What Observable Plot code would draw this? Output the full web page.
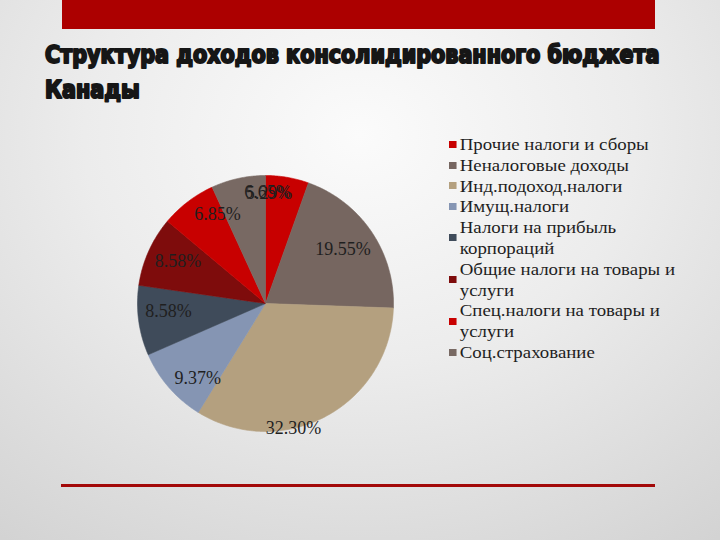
<!DOCTYPE html>
<html>
<head>
<meta charset="utf-8">
<script src="https://cdn.jsdelivr.net/npm/d3@7"></script>
<script src="https://cdn.jsdelivr.net/npm/@observablehq/plot@0.6"></script>
<style>
  html, body { margin: 0; padding: 0; }
  body {
    width: 720px; height: 540px; overflow: hidden; position: relative;
    background: radial-gradient(ellipse 85% 95% at 50% 25%, #fbfbfb 0%, #ececec 45%, #d2d2d2 100%);
  }
  #topbar { position: absolute; left: 62px; top: 0; width: 593px; height: 29px; background: #ac0000; }
  #bottomline { position: absolute; left: 61px; top: 484px; width: 594px; height: 3px; background: #a30909; }
  #title { position: absolute; left: 0; top: 0; }
  #chart { position: absolute; left: 130px; top: 166px; }
  #legend {
    position: absolute; left: 449px; top: 134px;
    font-family: "Liberation Serif", "DejaVu Serif", serif; font-size: 17.5px;
    line-height: 20.8px; color: #1e1e1e; transform-origin: 0 0; white-space: nowrap;
  }
  .item { display: flex; align-items: center; }
  .sw { width: 7px; height: 7px; flex: none; margin-right: 3px; }
</style>
</head>
<body>
<div id="topbar"></div>
<svg id="title" width="720" height="110">
  <g id="titleGroup" fill="#161616" stroke="#161616" stroke-width="2" stroke-linejoin="round"
     font-family="'DejaVu Sans Condensed', 'DejaVu Sans', sans-serif" font-weight="bold" font-size="24">
    <text id="t1" x="45" y="63">Структура доходов консолидированного бюджета</text>
    <text id="t2" x="45" y="98">Канады</text>
  </g>
</svg>
<div id="chart"></div>
<div id="legend"></div>
<div id="bottomline"></div>
<script>
const categories = [
  "Прочие налоги и сборы",
  "Неналоговые доходы",
  "Инд.подоход.налоги",
  "Имущ.налоги",
  "Налоги на прибыль корпораций",
  "Общие налоги на товары и услуги",
  "Спец.налоги на товары и услуги",
  "Соц.страхование"
];
const shares = [5.29, 19.55, 32.30, 9.37, 8.58, 8.58, 6.85, 6.65];
const shareLabels = ["5.29%", "19.55%", "32.30%", "9.37%", "8.58%", "8.58%", "6.85%", "6.65%"];
const sliceColors = ["#c80000", "#766660", "#b4a07f", "#8595b3", "#3f4b5a", "#7e0c0c", "#c80000", "#786963"];

// label placement (layout only): radius factor and angular nudge in degrees
const labelLayout = [
  {r: 0.86, shift: -8}, {r: 0.74, shift: -1}, {r: 1.0, shift: 15.5}, {r: 0.79, shift: -7},
  {r: 0.76, shift: 3}, {r: 0.76, shift: 1.7}, {r: 0.79, shift: 9}, {r: 0.87, shift: 13.3}
];

// title horizontal condensing to the reference width
(function () {
  const t1 = document.getElementById("t1");
  const w = t1.getComputedTextLength();
  const sx = 615 / w;
  document.getElementById("titleGroup").setAttribute("transform", `translate(45,0) scale(${sx},1) translate(-45,0)`);
})();

const arcs = d3.pie().sort(null).value(d => d)(shares);
const polyPoints = [];
arcs.forEach((a, i) => {
  const cat = categories[i];
  polyPoints.push({cat, x: 0, y: 0});
  const n = Math.max(2, Math.ceil((a.endAngle - a.startAngle) / (Math.PI / 360)));
  for (let k = 0; k <= n; k++) {
    const t = a.startAngle + (a.endAngle - a.startAngle) * k / n;
    polyPoints.push({cat, x: Math.sin(t), y: Math.cos(t)});
  }
  polyPoints.push({cat, x: 0, y: 0});
});

const labelData = arcs.map((a, i) => {
  const m = (a.startAngle + a.endAngle) / 2 + labelLayout[i].shift * Math.PI / 180;
  return {x: labelLayout[i].r * Math.sin(m), y: labelLayout[i].r * Math.cos(m), text: shareLabels[i]};
});

const chart = Plot.plot({
  width: 270, height: 275,
  marginLeft: 7, marginRight: 7, marginTop: 9, marginBottom: 10,
  x: {domain: [-1, 1], axis: null},
  y: {domain: [-1, 1], axis: null},
  color: {domain: categories, range: sliceColors},
  style: {background: "transparent", overflow: "visible"},
  marks: [
    Plot.line(polyPoints, {x: "x", y: "y", z: "cat", fill: "cat", stroke: "cat", strokeWidth: 0.6, curve: "linear"}),
    Plot.text(labelData, {x: "x", y: "y", text: "text", fontSize: 18,
      fontFamily: "'Liberation Serif', 'DejaVu Serif', serif", fill: "#1f1f1f"})
  ]
});
document.getElementById("chart").appendChild(chart);

// legend: long names wrap before their last word
const legend = document.getElementById("legend");
categories.forEach((c, i) => {
  const item = document.createElement("div");
  item.className = "item";
  const sw = document.createElement("span");
  sw.className = "sw";
  sw.style.background = sliceColors[i];
  const tx = document.createElement("span");
  if (c.length > 22) {
    const cut = c.lastIndexOf(" ");
    tx.appendChild(document.createTextNode(c.slice(0, cut)));
    tx.appendChild(document.createElement("br"));
    tx.appendChild(document.createTextNode(c.slice(cut + 1)));
  } else {
    tx.textContent = c;
  }
  item.appendChild(sw);
  item.appendChild(tx);
  legend.appendChild(item);
});
// stretch legend horizontally so its widest line ends near the reference's right edge
(function () {
  const w = legend.getBoundingClientRect().width;
  legend.style.transform = `scaleX(${226 / w})`;
})();
</script>
</body>
</html>
